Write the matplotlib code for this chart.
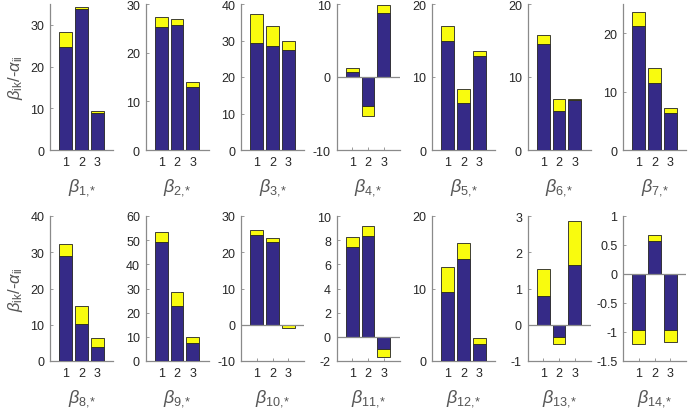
import matplotlib
matplotlib.use("Agg")
import matplotlib.pyplot as plt

plt.rcParams['font.family'] = ['Liberation Sans', 'DejaVu Sans']
plt.rcParams['mathtext.fontset'] = 'custom'
plt.rcParams['mathtext.rm'] = 'Liberation Sans'
plt.rcParams['mathtext.it'] = 'Liberation Sans:italic'
plt.rcParams['mathtext.bf'] = 'Liberation Sans:bold'

categories = [1, 2, 3]
# blue part (lower estimate) and total bar height (blue + yellow) per panel
blue = [
    [24.6, 33.8, 8.8],
    [25.2, 25.7, 13.0],
    [29.4, 28.6, 27.4],
    [0.75, -4.0, 8.7],
    [15.0, 6.5, 12.9],
    [14.5, 5.4, 6.8],
    [21.2, 11.5, 6.3],
    [28.9, 10.2, 4.0],
    [49.2, 22.8, 7.3],
    [24.8, 22.8, -0.15],
    [7.4, 8.36, -1.0],
    [9.5, 14.1, 2.4],
    [0.78, -0.35, 1.66],
    [-0.96, 0.575, -0.96],
]
total = [
    [28.3, 34.4, 9.4],
    [27.4, 27.0, 14.0],
    [37.3, 33.9, 29.8],
    [1.2, -5.3, 9.9],
    [17.0, 8.3, 13.5],
    [15.7, 7.0, 7.0],
    [23.6, 14.0, 7.2],
    [32.2, 15.2, 6.3],
    [53.4, 28.4, 10.1],
    [26.2, 23.8, -1.0],
    [8.3, 9.2, -1.7],
    [12.95, 16.3, 3.2],
    [1.54, -0.52, 2.86],
    [-1.2, 0.67, -1.18],
]
ylims = [(0, 35), (0, 30), (0, 40), (-10, 10), (0, 20), (0, 20), (0, 25),
         (0, 40), (0, 60), (-10, 30), (-2, 10), (0, 20), (-1, 3), (-1.5, 1)]
yticks = [
    [0, 10, 20, 30], [0, 10, 20, 30], [0, 10, 20, 30, 40], [-10, 0, 10],
    [0, 10, 20], [0, 10, 20], [0, 10, 20],
    [0, 10, 20, 30, 40], [0, 10, 20, 30, 40, 50, 60], [-10, 0, 10, 20, 30],
    [-2, 0, 2, 4, 6, 8, 10], [0, 10, 20], [-1, 0, 1, 2, 3],
    [-1.5, -1, -0.5, 0, 0.5, 1],
]
panel_labels = [r'$\beta_{\text{%d,*}}$' % (i + 1) for i in range(14)]
ylabel_text = r'$\beta_{\text{ik}}$/-$\alpha_{\text{ii}}$'

BLUE = '#352a87'
YELLOW = '#f9fb0e'
GRAY = '#8a8a8a'
TXT = '#262626'

W, H = 688, 410
fig = plt.figure(figsize=(W / 100, H / 100), dpi=100)

lefts = [50 + 95.5 * c for c in range(7)]
rows = [(5, 151), (217, 362)]
axw = 63

for i in range(14):
    r, c = divmod(i, 7)
    top, bot = rows[r]
    ax = fig.add_axes([lefts[c] / W, (H - bot) / H, axw / W, (bot - top) / H])
    ax.bar(categories, blue[i], width=0.8, color=BLUE, edgecolor='#222222',
           linewidth=0.6, zorder=3)
    ax.bar(categories, [t - b for t, b in zip(total[i], blue[i])], width=0.8,
           bottom=blue[i], color=YELLOW, edgecolor='#222222', linewidth=0.6,
           zorder=3)
    lo, hi = ylims[i]
    ax.set_ylim(lo, hi)
    ax.set_xlim(0, 4)
    if lo < 0:
        ax.axhline(0, color=GRAY, linewidth=0.9, zorder=4)
    ax.set_yticks(yticks[i])
    ax.set_yticklabels([('%g' % v) for v in yticks[i]])
    ax.set_xticks(categories)
    for s in ['top', 'right']:
        ax.spines[s].set_visible(False)
    for s in ['left', 'bottom']:
        ax.spines[s].set_color(GRAY)
        ax.spines[s].set_linewidth(0.9)
    ax.tick_params(direction='in', length=2.5, width=0.6, color=GRAY,
                   labelsize=9, labelcolor=TXT, pad=4)
    ax.set_xlabel(panel_labels[i], fontsize=13, color='#555555', labelpad=6)
    if c == 0:
        ax.set_ylabel(ylabel_text, fontsize=12, color='#555555', labelpad=4)

fig.savefig('out.png', dpi=100)
